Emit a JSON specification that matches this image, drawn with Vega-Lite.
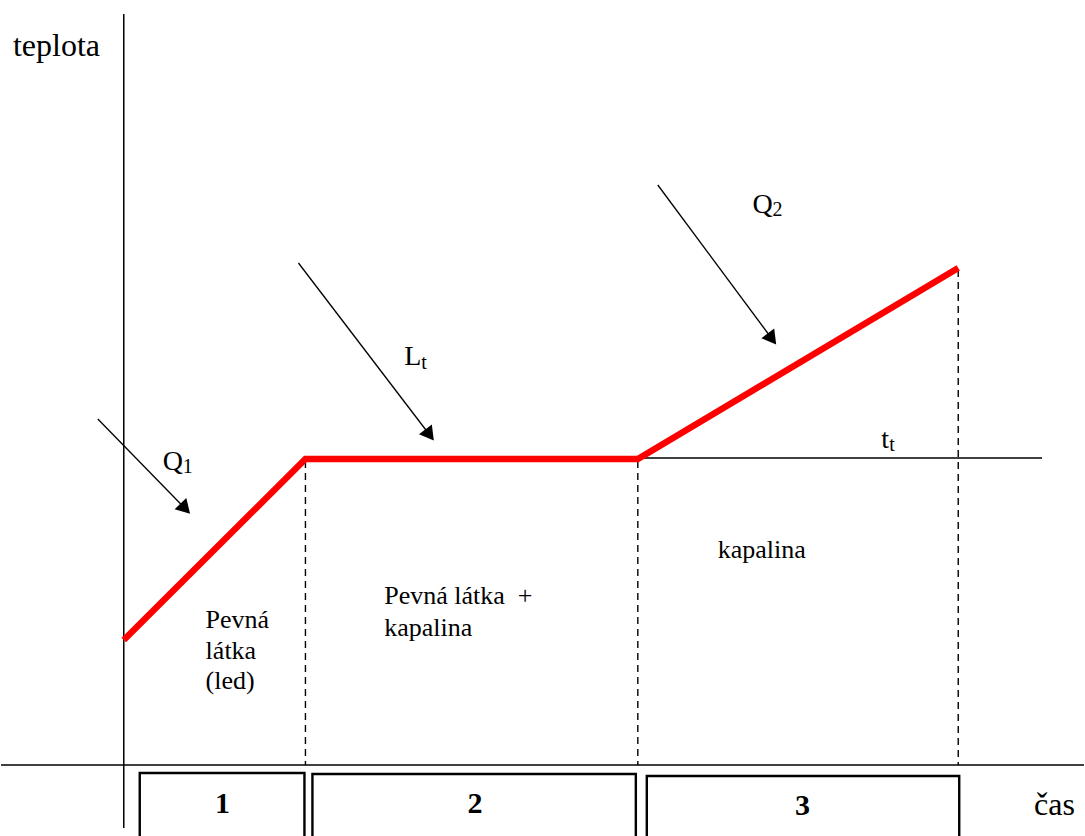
{
  "$schema": "https://vega.github.io/schema/vega-lite/v6.json",
  "width": 1085,
  "height": 836,
  "autosize": {"type": "fit", "contains": "padding"},
  "padding": 0,
  "background": "white",
  "config": {"view": {"stroke": null}, "text": {"font": "Liberation Serif", "color": "black", "align": "left", "baseline": "alphabetic"}},
  "datasets": {
    "curve": [
      {"i": 0, "cas": 123, "teplota": 640},
      {"i": 1, "cas": 305, "teplota": 459},
      {"i": 2, "cas": 638, "teplota": 459},
      {"i": 3, "cas": 959, "teplota": 268}
    ],
    "solid": [
      {"x": 123, "y": 14, "x2": 123, "y2": 828},
      {"x": 0, "y": 765, "x2": 1085, "y2": 765},
      {"x": 638, "y": 458, "x2": 1043, "y2": 458}
    ],
    "arrows": [
      {"name": "Q1", "x": 97, "y": 419, "x2": 183, "y2": 507},
      {"name": "Lt", "x": 298, "y": 263, "x2": 428, "y2": 433},
      {"name": "Q2", "x": 658, "y": 185, "x2": 771, "y2": 337}
    ],
    "dashed": [
      {"x": 305, "y": 461, "x2": 305, "y2": 765},
      {"x": 638, "y": 461, "x2": 638, "y2": 765},
      {"x": 959, "y": 270, "x2": 959, "y2": 765}
    ],
    "boxes": [
      {"x": 139, "x2": 304, "y": 773, "y2": 850},
      {"x": 312, "x2": 636, "y": 774, "y2": 850},
      {"x": 647, "x2": 960, "y": 776, "y2": 850}
    ],
    "axisnames": [
      {"x": 12, "y": 56, "t": "teplota"},
      {"x": 1035, "y": 815, "t": "čas"}
    ],
    "symbols": [
      {"x": 162, "y": 470, "t": "Q"},
      {"x": 404, "y": 365, "t": "L"},
      {"x": 753, "y": 213, "t": "Q"},
      {"x": 882, "y": 448, "t": "t"}
    ],
    "sub": [
      {"x": 182, "y": 473, "t": "1"},
      {"x": 421, "y": 369, "t": "t"},
      {"x": 773, "y": 216, "t": "2"},
      {"x": 890, "y": 451, "t": "t"}
    ],
    "body": [
      {"x": 205, "y": 628, "t": "Pevná"},
      {"x": 205, "y": 659, "t": "látka"},
      {"x": 205, "y": 689, "t": "(led)"},
      {"x": 384, "y": 604, "t": "Pevná látka \u00a0+"},
      {"x": 384, "y": 636, "t": "kapalina"},
      {"x": 718, "y": 558, "t": "kapalina"}
    ],
    "digits": [
      {"x": 222, "y": 813, "t": "1"},
      {"x": 475, "y": 813, "t": "2"},
      {"x": 803, "y": 815, "t": "3"}
    ]
  },
  "layer": [
    {
      "data": {"name": "boxes"},
      "mark": {"type": "rect", "fill": "white", "stroke": "black", "strokeWidth": 2.4, "clip": true},
      "encoding": {
        "x": {"field": "x", "type": "quantitative", "scale": {"domain": [0, 1085], "nice": false, "zero": false}, "axis": null},
        "x2": {"field": "x2"},
        "y": {"field": "y", "type": "quantitative", "scale": {"domain": [0, 836], "nice": false, "zero": false, "reverse": true}, "axis": null},
        "y2": {"field": "y2"}
      }
    },
    {
      "data": {"name": "dashed"},
      "mark": {"type": "rule", "color": "black", "strokeWidth": 1.4, "strokeDash": [7, 5]},
      "encoding": {
        "x": {"field": "x", "type": "quantitative"},
        "x2": {"field": "x2"},
        "y": {"field": "y", "type": "quantitative"},
        "y2": {"field": "y2"}
      }
    },
    {
      "data": {"name": "solid"},
      "mark": {"type": "rule", "color": "black", "strokeWidth": 1.5},
      "encoding": {
        "x": {"field": "x", "type": "quantitative"},
        "x2": {"field": "x2"},
        "y": {"field": "y", "type": "quantitative"},
        "y2": {"field": "y2"}
      }
    },
    {
      "data": {"name": "arrows"},
      "mark": {"type": "rule", "color": "black", "strokeWidth": 1.3},
      "encoding": {
        "x": {"field": "x", "type": "quantitative"},
        "x2": {"field": "x2"},
        "y": {"field": "y", "type": "quantitative"},
        "y2": {"field": "y2"}
      }
    },
    {
      "data": {"name": "arrows"},
      "transform": [{"filter": "datum.name === 'Q1'"}],
      "mark": {"type": "point", "shape": "triangle", "filled": true, "color": "black", "size": 260, "angle": 136.5, "opacity": 1},
      "encoding": {
        "x": {"field": "x2", "type": "quantitative"},
        "y": {"field": "y2", "type": "quantitative"}
      }
    },
    {
      "data": {"name": "arrows"},
      "transform": [{"filter": "datum.name !== 'Q1'"}],
      "mark": {"type": "point", "shape": "triangle", "filled": true, "color": "black", "size": 260, "angle": 143, "opacity": 1},
      "encoding": {
        "x": {"field": "x2", "type": "quantitative"},
        "y": {"field": "y2", "type": "quantitative"}
      }
    },
    {
      "data": {"name": "curve"},
      "mark": {"type": "line", "color": "#ff0000", "strokeWidth": 6.5, "strokeJoin": "miter"},
      "encoding": {
        "x": {"field": "cas", "type": "quantitative"},
        "y": {"field": "teplota", "type": "quantitative"},
        "order": {"field": "i"}
      }
    },
    {
      "data": {"name": "axisnames"},
      "mark": {"type": "text", "fontSize": 32},
      "encoding": {
        "x": {"field": "x", "type": "quantitative"},
        "y": {"field": "y", "type": "quantitative"},
        "text": {"field": "t"}
      }
    },
    {
      "data": {"name": "symbols"},
      "mark": {"type": "text", "fontSize": 28},
      "encoding": {
        "x": {"field": "x", "type": "quantitative"},
        "y": {"field": "y", "type": "quantitative"},
        "text": {"field": "t"}
      }
    },
    {
      "data": {"name": "sub"},
      "mark": {"type": "text", "fontSize": 20},
      "encoding": {
        "x": {"field": "x", "type": "quantitative"},
        "y": {"field": "y", "type": "quantitative"},
        "text": {"field": "t"}
      }
    },
    {
      "data": {"name": "body"},
      "mark": {"type": "text", "fontSize": 26},
      "encoding": {
        "x": {"field": "x", "type": "quantitative"},
        "y": {"field": "y", "type": "quantitative"},
        "text": {"field": "t"}
      }
    },
    {
      "data": {"name": "digits"},
      "mark": {"type": "text", "fontSize": 30, "fontWeight": "bold", "align": "center"},
      "encoding": {
        "x": {"field": "x", "type": "quantitative"},
        "y": {"field": "y", "type": "quantitative"},
        "text": {"field": "t"}
      }
    }
  ]
}
